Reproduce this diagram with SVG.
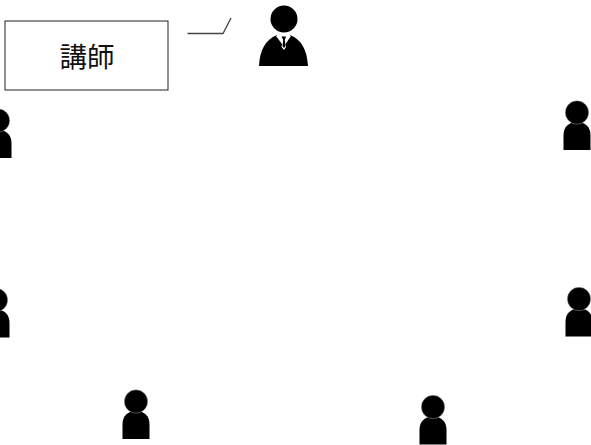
<svg xmlns="http://www.w3.org/2000/svg" width="591" height="445" viewBox="0 0 591 445">
<style>
.box{fill:#fff;stroke:#222;stroke-width:1}
.lbl{font-family:"Noto Sans CJK JP","Noto Sans",sans-serif;font-size:27.500px;fill:#111;text-anchor:middle}
.conn{fill:none;stroke:#444;stroke-width:1.3}
</style>
<defs>
<g id="person">
<path d="M-13.5 37.500V23C-13.500 14-8 9.500 0 9.500C8 9.500 13.500 14 13.500 23V37.500Z" fill="#000"/>
<circle cx="0" cy="0" r="11.700" fill="#000" stroke="#ccc" stroke-width=".4"/>
</g>
</defs>
<rect width="591" height="445" fill="#fff"/>
<g id="connectors">
<path class="conn" d="M187.500 33.500H223L231 18"/>
</g>
<g id="label-box">
<rect class="box" x="5" y="21" width="163" height="69"/>
<text class="lbl" x="87" y="67">講師</text>
</g>
<g id="teacher">
<circle cx="284" cy="19" r="13.500" fill="#000"/>
<path d="M259 66C260 50 265 40 277 35L281 40H286L290 35C302 40 307 50 308 66Z" fill="#000"/>
<path d="M278 34.500L283.500 38L289 34.500L291 36L285.500 44L286 47L284 50L281.500 47L282 44L276 36Z" fill="#fff"/>
<path d="M281.500 36.500H286L284.800 40L285.500 46L284 48L282.500 46L283.200 40Z" fill="#000"/>
</g>
<g id="student-1"><use href="#person" x="-2" y="120.500"/></g>
<g id="student-2"><use href="#person" x="577" y="112.500"/></g>
<g id="student-3"><use href="#person" x="-4" y="300"/></g>
<g id="student-4"><use href="#person" x="579" y="299"/></g>
<g id="student-5"><use href="#person" x="136" y="401.500"/></g>
<g id="student-6"><use href="#person" x="433" y="407"/></g>
</svg>
